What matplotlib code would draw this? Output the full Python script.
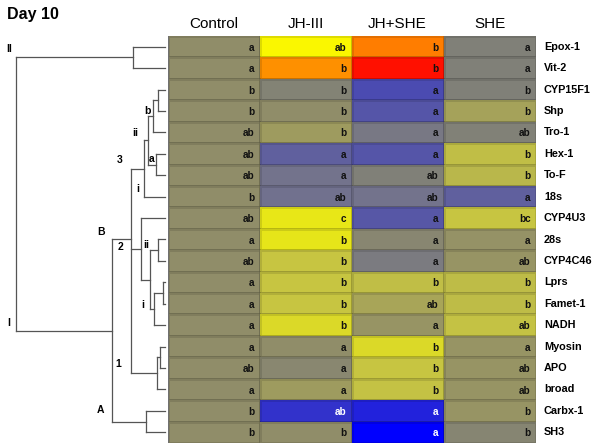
import numpy as np
import matplotlib
matplotlib.use('Agg')
import matplotlib.pyplot as plt
from matplotlib.colors import LinearSegmentedColormap
from matplotlib.transforms import blended_transform_factory

plt.rcParams['font.family'] = ['Liberation Sans', 'DejaVu Sans']

genes = ['Epox-1', 'Vit-2', 'CYP15F1', 'Shp', 'Tro-1', 'Hex-1', 'To-F', '18s',
         'CYP4U3', '28s', 'CYP4C46', 'Lprs', 'Famet-1', 'NADH', 'Myosin', 'APO',
         'broad', 'Carbx-1', 'SH3']
treatments = ['Control', 'JH-III', 'JH+SHE', 'SHE']

# relative expression (log scale, control = 0)
control = [0, 0, 0, 0, 0, 0, 0, 0, 0, 0, 0, 0, 0, 0, 0, 0, 0, 0, 0]
jh = [2.0, 2.86, -0.4, 0, 0.28, -1.55, -1.0, -1.05, 1.65, 1.6,
      1.0, 1.0, 1.0, 1.38, 0, -0.2, 0.28, -2.75, 0]
jh_she = [3.0, 4.0, -2.1, -1.85, -0.8, -1.85, -0.5, -1.0, -1.8, -0.25,
          -0.7, 0.88, 0.45, 0.15, 1.4, 1.0, 0.95, -3.15, -4.0]
she = [-0.5, -0.5, -0.5, 0.4, -0.45, 0.88, 0.75, -1.55, 1.0, 0.1,
       0.13, 0.85, 0.85, 0.95, 0.13, 0.13, 0.15, 0.13, -0.3]

# significance letters
sig_control = ['a', 'a', 'b', 'b', 'ab', 'ab', 'ab', 'b', 'ab', 'a',
               'ab', 'a', 'a', 'a', 'a', 'ab', 'a', 'b', 'b']
sig_jh = ['ab', 'b', 'b', 'b', 'b', 'a', 'a', 'ab', 'c', 'b',
          'b', 'b', 'b', 'b', 'a', 'a', 'a', 'ab', 'b']
sig_jh_she = ['b', 'b', 'a', 'a', 'a', 'a', 'ab', 'ab', 'a', 'a',
              'a', 'b', 'ab', 'a', 'b', 'b', 'b', 'a', 'a']
sig_she = ['a', 'a', 'b', 'b', 'ab', 'b', 'b', 'a', 'bc', 'a',
           'ab', 'b', 'b', 'ab', 'a', 'ab', 'ab', 'b', 'b']

# cluster tree: node -> (children, height)
tree = {
    'root': (['n_ev', 'n_main'], 149),
    'n_ev': (['Epox-1', 'Vit-2'], 32),
    'n_main': (['B', 'A'], 53),
    'A': (['Carbx-1', 'SH3'], 19.5),
    'B': (['c3', 'c2', 'c1'], 34.3),
    'c3': (['c3ii', '18s'], 21),
    'c3ii': (['c3b', 'c3a'], 16.7),
    'c3b': (['n_cs', 'Tro-1'], 12.3),
    'n_cs': (['CYP15F1', 'Shp'], 6.7),
    'c3a': (['Hex-1', 'To-F'], 9.5),
    'c2': (['CYP4U3', 'c2ii'], 23.8),
    'c2ii': (['n_28', 'c2i'], 14.7),
    'n_28': (['28s', 'CYP4C46'], 6.7),
    'c2i': (['n_lf', 'NADH'], 10.7),
    'n_lf': (['Lprs', 'Famet-1'], 1.8),
    'c1': (['n_ma', 'broad'], 8.3),
    'n_ma': (['Myosin', 'APO'], 5),
}

# cluster labels: text, height, row
clabels = [('II', 155.5, 0.61), ('I', 156, 13.42), ('A', 65, 17.46),
           ('B', 64, 9.13), ('1', 46.5, 15.29), ('2', 44.5, 9.85),
           ('3', 45, 5.79), ('ii', 29.5, 4.55), ('i', 27, 7.14),
           ('b', 18, 3.48), ('a', 13.5, 5.72), ('ii', 18.5, 9.76),
           ('i', 22.3, 12.56)]

stops = [(-4, '#0000ff'), (-2, '#5050ac'), (-1, '#73738c'), (-0.5, '#808078'),
         (0, '#8f8c6a'), (1, '#c6c442'), (2, '#fafa00'), (3, '#ff8000'),
         (4, '#ff1000')]
vmin, vmax = -4, 4
cmap = LinearSegmentedColormap.from_list(
    'expr', [((v - vmin) / (vmax - vmin), c) for v, c in stops])

W, H = 600, 444
fig = plt.figure(figsize=(W / 100, H / 100), dpi=100)
top_px, bot_px = 36, 443
x0_px, x1_px = 167.5, 535.5
ax_h = fig.add_axes([x0_px / W, 1 - bot_px / H, (x1_px - x0_px) / W, (bot_px - top_px) / H])
ax_d = fig.add_axes([0, 1 - bot_px / H, x0_px / W, (bot_px - top_px) / H])

n = len(genes)
vals = np.array([control, jh, jh_she, she]).T
sigs = np.array([sig_control, sig_jh, sig_jh_she, sig_she]).T

ax_h.pcolormesh(vals, cmap=cmap, vmin=vmin, vmax=vmax,
                edgecolors=(0, 0, 0, 0.11), linewidth=1.0)
ax_h.set_xlim(0, 4)
ax_h.set_ylim(n, 0)
ax_h.axis('off')
ax_h.axvline(0, color='#707070', lw=1.6)

for i in range(n):
    for j in range(4):
        tc = 'white' if vals[i, j] < -2.5 else '#111111'
        ax_h.text(j + 0.945, i + 0.55, sigs[i, j], ha='right', va='center',
                  fontsize=7.2, fontweight='bold', color=tc)
    ax_h.text(4.092, i + 0.5, genes[i], ha='left', va='center',
              fontsize=7.8, fontweight='bold', clip_on=False)

tr = blended_transform_factory(ax_h.transData, fig.transFigure)
for j, t in enumerate(treatments):
    ax_h.text(j + 0.5, 1 - 28.5 / H, t, ha='center', va='baseline',
              fontsize=11, transform=tr)

fig.text(7 / W, 1 - 19.5 / H, 'Day 10', ha='left', va='baseline',
         fontsize=11.5, fontweight='bold')

# dendrogram
pos = {}


def place(name):
    if name in genes:
        i = genes.index(name)
        pos[name] = (0.0, i + 0.5, i, i)
        return pos[name]
    kids, h = tree[name]
    cp = [place(k) for k in kids]
    lo = min(c[2] for c in cp)
    hi = max(c[3] for c in cp)
    if len(kids) == 2:
        y = (cp[0][1] + cp[1][1]) / 2
    else:
        y = (lo + hi + 1) / 2
    pos[name] = (h, y, lo, hi)
    return pos[name]


place('root')
lc = '#555555'
for name, (kids, h) in tree.items():
    ys = [pos[k][1] for k in kids]
    ax_d.plot([h, h], [min(ys), max(ys)], color=lc, lw=0.9)
    for k in kids:
        ax_d.plot([pos[k][0], h], [pos[k][1], pos[k][1]], color=lc, lw=0.9)

for t, hx, r in clabels:
    ax_d.text(hx, r, t, ha='center', va='center', fontsize=7.5, fontweight='bold')

ax_d.set_xlim(165, -2.5)
ax_d.set_ylim(n, 0)
ax_d.axis('off')

fig.savefig('out.png', dpi=100)
